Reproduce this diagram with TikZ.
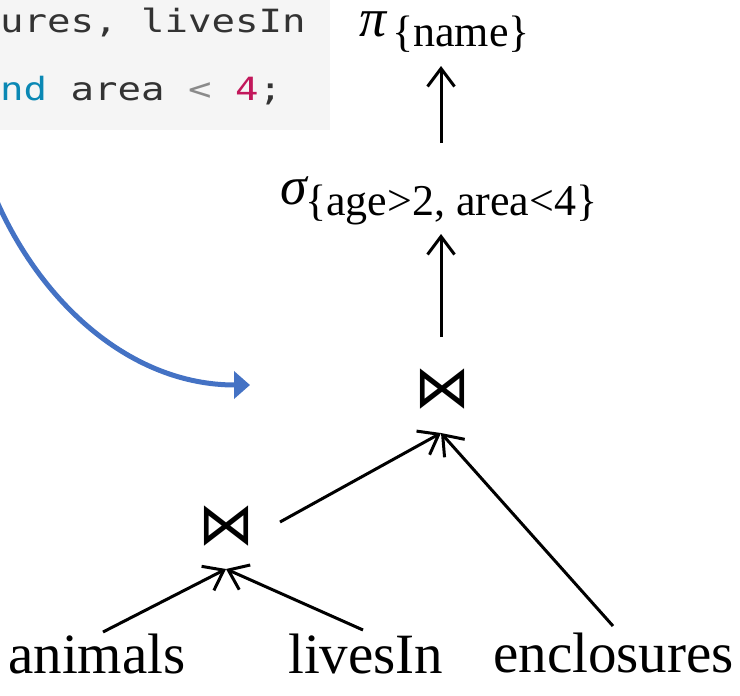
\documentclass[tikz,border=0pt]{standalone}
\usepackage{fontspec}
\setmainfont{Liberation Serif}
\newfontfamily\codefont[FakeStretch=1.22]{DejaVu Sans Mono}
\newfontfamily\symfont{DejaVu Sans}
\usetikzlibrary{arrows.meta}
\definecolor{codebg}{HTML}{F5F5F5}
\definecolor{codetext}{HTML}{333333}
\definecolor{codekw}{HTML}{0A88B4}
\definecolor{codeop}{HTML}{8A8A8A}
\definecolor{codenum}{HTML}{C2185B}
\definecolor{flowblue}{HTML}{4472C4}
\tikzset{
  lbl/.style={inner sep=0pt, anchor=base west, font=\fontsize{57}{60}\selectfont},
  opmain/.style={inner sep=0pt, anchor=base west, text height=26pt, text depth=2pt, font=\fontsize{54}{60}\selectfont\itshape},
  opsub/.style={inner sep=0pt, anchor=base west, font=\fontsize{44}{48}\selectfont},
  joinsym/.style={inner sep=0pt, anchor=center, font=\fontsize{56}{60}\selectfont\symfont},
  codeline/.style={inner sep=0pt, anchor=base west, text=codetext, font=\fontsize{32}{36}\selectfont\codefont},
  arr/.style={line width=3pt, -{Straight Barb[length=18pt,width=27pt]}},
  bluearr/.style={draw=flowblue, line width=5pt, -{Triangle[length=16pt,width=27pt]}}
}
\begin{document}
\begin{tikzpicture}[x=1pt,y=-1pt]
\useasboundingbox (0,0) rectangle (740,696);
% code box
\fill[codebg] (0,0) rectangle (330,130);
\node[codeline] (code1) at (0,32) {ures, livesIn};
\node[codeline] (code2) at (0,100) {\textcolor{codekw}{nd} area \textcolor{codeop}{<} \textcolor{codenum}{4};};
% operators
\node[opmain] (pi) at (359,36) {π};
\node[opsub] (pisub) at (392,46) {\{name\}};
\node[opmain] (sigma) at (280,204) {σ};
\node[opsub] (sigmasub) at (305,215) {\{age>2, area<4\}};
\node[joinsym] (join2) at (442,389) {\scalebox{1}[1.05]{⋈}};
\node[joinsym] (join1) at (226,526) {\scalebox{1}[1.05]{⋈}};
% leaves
\node[lbl] (animals) at (8,673) {animals};
\node[lbl] (livesin) at (288,673) {livesIn};
\node[lbl] (enclosures) at (493,672) {enclosures};
% connector end points
\coordinate (pitip) at (441,66);
\coordinate (pibase) at (441,143);
\coordinate (sigtip) at (441,234);
\coordinate (sigbase) at (441,337);
\coordinate (j2tip) at (441,433);
\coordinate (j1out) at (280,522);
\coordinate (enctop) at (613,626);
\coordinate (j1tip) at (226,569);
\coordinate (anitop) at (103,632);
\coordinate (livtop) at (363,630);
\coordinate (cstart) at (-5,197);
\coordinate (cend) at (250,385);
% connectors
\draw[arr] (pibase) -- (pitip);
\draw[arr] (sigbase) -- (sigtip);
\draw[arr] (j1out) -- (j2tip);
\draw[arr] (enctop) -- (j2tip);
\draw[arr] (anitop) -- (j1tip);
\draw[arr] (livtop) -- (j1tip);
\draw[bluearr] (cstart) .. controls (40,302) and (130,385) .. (cend);
\end{tikzpicture}
\end{document}
